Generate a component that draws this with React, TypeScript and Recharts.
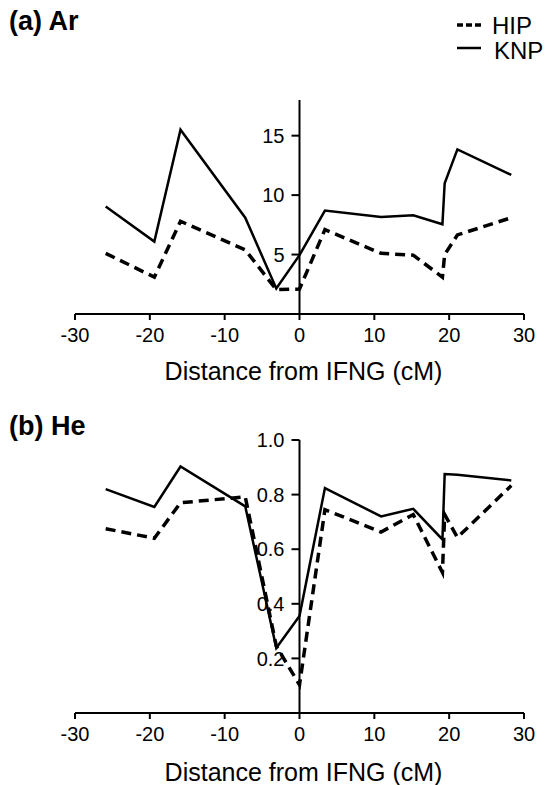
import React from 'react'
import { LineChart, Line, XAxis, YAxis, ReferenceLine, Legend } from 'recharts'

// marker positions (cM from IFNG), shared by both panels
const DIST = [-25.9, -19.4, -15.9, -7.25, -3.1, 0, 3.4, 10.9, 15.2, 19.1, 19.4, 21.1, 28.3]

// (a) allelic richness
const AR_HIP = [5.1, 3.1, 7.8, 5.4, 2.05, 2.1, 7.1, 5.1, 4.95, 3.1, 5.0, 6.65, 8.1]
const AR_KNP = [9.05, 6.09, 15.5, 8.1, 2.15, 4.95, 8.7, 8.15, 8.3, 7.55, 11.0, 13.85, 11.7]

// (b) expected heterozygosity
const HE_HIP = [0.675, 0.64, 0.77, 0.792, 0.245, 0.103, 0.745, 0.663, 0.727, 0.515, 0.727, 0.643, 0.833]
const HE_KNP = [0.82, 0.755, 0.903, 0.757, 0.238, 0.355, 0.824, 0.72, 0.748, 0.636, 0.875, 0.873, 0.852]

const X_TICKS = [-30, -20, -10, 0, 10, 20, 30]
const AR_TICKS = [5, 10, 15]
const HE_TICKS = [0.2, 0.4, 0.6, 0.8, 1.0]

const FONT = '"Liberation Sans", Arial, sans-serif'
const W = 549
const PLOT_LEFT = 75
const PLOT_RIGHT = 524
const ZERO_X = PLOT_LEFT + (PLOT_RIGHT - PLOT_LEFT) / 2

const arData = DIST.map((d, i) => ({ d, hip: AR_HIP[i], knp: AR_KNP[i] }))
const heData = DIST.map((d, i) => ({ d, hip: HE_HIP[i], knp: HE_KNP[i] }))

// y axis sits at x = 0, so the ticks are drawn there
function centerTick(fmt: (v: number) => string) {
  return (props: any) => {
    const { y, payload } = props
    return (
      <g>
        <line x1={ZERO_X - 8} x2={ZERO_X} y1={y} y2={y} stroke="#000" strokeWidth={2} />
        <text x={ZERO_X - 15} y={y} dy="0.36em" textAnchor="end" fontSize={20} fontFamily={FONT} fill="#000">
          {fmt(payload.value)}
        </text>
      </g>
    )
  }
}

function LegendBox() {
  return (
    <svg width={94} height={60} style={{ display: 'block' }}>
      <line x1={2} x2={26} y1={17} y2={17} stroke="#000" strokeWidth={3.5} strokeDasharray="6 3" />
      <text x={37} y={26} fontSize={24} fontFamily={FONT} fill="#000">HIP</text>
      <line x1={2} x2={26} y1={40} y2={40} stroke="#000" strokeWidth={2.5} />
      <text x={39} y={51} fontSize={24} fontFamily={FONT} fill="#000">KNP</text>
    </svg>
  )
}

function Panel({ data, ticks, domain, fmt, height, bottom, titleOffset, legend }: any) {
  return (
    <LineChart width={W} height={height} data={data}
      margin={{ top: 40, right: W - PLOT_RIGHT, left: PLOT_LEFT - 1, bottom }}>
      <XAxis type="number" dataKey="d" domain={[-30, 30]} ticks={X_TICKS} interval={0} height={70}
        axisLine={{ stroke: '#000', strokeWidth: 2 }} tickLine={{ stroke: '#000', strokeWidth: 2 }}
        tickSize={6} tickMargin={8} tick={{ fontSize: 20, fontFamily: FONT, fill: '#000' }}
        label={{ value: 'Distance from IFNG (cM)', position: 'insideBottom', offset: titleOffset, dx: 4,
          style: { fontSize: 25, fontFamily: FONT, fill: '#000' } }} />
      <YAxis type="number" domain={domain} ticks={ticks} width={1} axisLine={false} tickLine={false}
        tick={centerTick(fmt)} interval={0} />
      <ReferenceLine x={0} stroke="#000" strokeWidth={2} />
      {legend && (
        <Legend layout="vertical" align="center" verticalAlign="top" content={() => <LegendBox />}
          wrapperStyle={{ position: 'absolute', top: 8, left: 455, width: 94 }} />
      )}
      <Line type="linear" dataKey="hip" stroke="#000" strokeWidth={3.5} strokeDasharray="10 6"
        dot={false} isAnimationActive={false} />
      <Line type="linear" dataKey="knp" stroke="#000" strokeWidth={2.5} dot={false} isAnimationActive={false} />
    </LineChart>
  )
}

export default function App() {
  const panelTitle = { position: 'absolute' as const, left: 9, fontFamily: FONT, fontWeight: 700, fontSize: 27, lineHeight: 1 }
  return (
    <div style={{ position: 'absolute', left: 0, top: 0, width: W, height: 785, background: '#fff' }}>
      <div style={{ position: 'absolute', left: 0, top: 0 }}>
        <Panel data={arData} ticks={AR_TICKS} domain={[0, 18]} fmt={(v: number) => String(v)}
          height={400} bottom={16} titleOffset={4} legend />
      </div>
      <div style={{ position: 'absolute', left: 0, top: 400 }}>
        <Panel data={heData} ticks={HE_TICKS} domain={[0, 1]} fmt={(v: number) => v.toFixed(1)}
          height={385} bottom={2} titleOffset={2} />
      </div>
      <div style={{ ...panelTitle, top: 8 }}>(a) Ar</div>
      <div style={{ ...panelTitle, top: 413 }}>(b) He</div>
    </div>
  )
}
